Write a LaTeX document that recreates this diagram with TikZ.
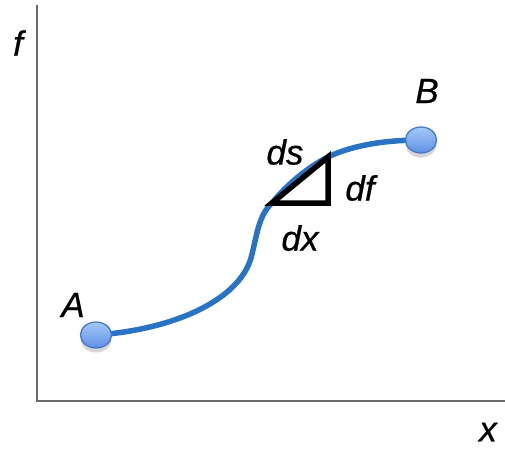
\documentclass[tikz,border=0pt]{standalone}
\usepackage{fontspec}
\setmainfont{Liberation Sans}[ItalicFeatures={FakeBold=0.6}]
\usetikzlibrary{shadows,shapes.geometric}
\definecolor{curveblue}{RGB}{40,115,195}
\definecolor{dotedge}{RGB}{70,120,200}
\definecolor{dottop}{RGB}{165,200,250}
\definecolor{dotbot}{RGB}{95,145,225}
\begin{document}
\begin{tikzpicture}[x=1pt,y=-1pt,
  axis/.style={draw=gray!85!black,line width=1.5pt},
  dot/.style={ellipse,draw=dotedge,line width=1.3pt,minimum width=31pt,minimum height=26pt,inner sep=0pt,
    top color=dottop,bottom color=dotbot,
    drop shadow={shadow xshift=0pt,shadow yshift=-4.5pt,fill=gray!40,opacity=0.8}},
  lbl/.style={font=\fontsize{35}{35}\selectfont\itshape,inner sep=0pt},
  curve/.style={draw=curveblue,line width=5.5pt},
  tri/.style={draw=black,line width=5.5pt,line join=miter}]
\useasboundingbox (0,0) rectangle (505,448);
\coordinate (ytop) at (37,5);
\coordinate (orig) at (37,401);
\coordinate (xend) at (505,401);
\draw[axis] (ytop) -- (orig) -- (xend);
\coordinate (pA) at (96,335);
\coordinate (pB) at (421,140);
\coordinate (T1) at (272,203);
\coordinate (T2) at (328,203);
\coordinate (T3) at (328,157);
\path[curve] (pA) .. controls (170,330) and (238,302) .. (251,258)
  .. controls (257,236) and (258,216) .. (T1)
  .. controls (288,183) and (310,166) .. (T3)
  .. controls (355,144) and (390,140) .. (pB);
\draw[tri] (T1) -- (T2) -- (T3) -- cycle;
\node[dot] (A) at (pA) {};
\node[dot] (B) at (pB) {};
\node[lbl] (lf) at (18,43) {f};
\node[lbl] (lA) at (73,305) {A};
\node[lbl] (lB) at (427,91) {B};
\node[lbl] (lx) at (488,432) {x};
\node[lbl] (lds) at (285,152) {ds};
\node[lbl] (ldf) at (360,188) {df};
\node[lbl] (ldx) at (300,238) {dx};
\end{tikzpicture}
\end{document}
